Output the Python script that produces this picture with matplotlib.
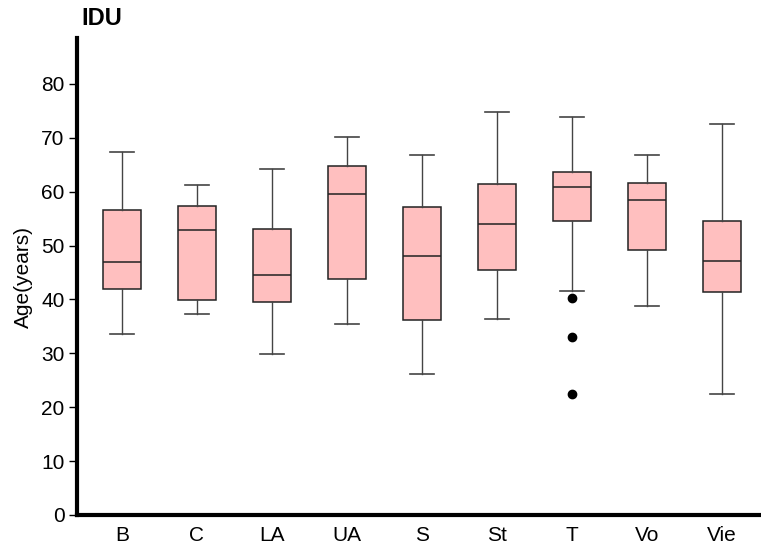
import matplotlib.pyplot as plt

plt.rcParams['font.family'] = ['Liberation Sans', 'DejaVu Sans']

groups = ['B', 'C', 'LA', 'UA', 'S', 'St', 'T', 'Vo', 'Vie']
whisker_low = [33.5, 37.25, 29.9, 35.4, 26.2, 36.4, 41.6, 38.7, 22.4]
q1 = [41.9, 39.9, 39.5, 43.7, 36.1, 45.4, 54.6, 49.1, 41.3]
median = [47.0, 52.8, 44.5, 59.5, 48.1, 53.9, 60.9, 58.4, 47.1]
q3 = [56.5, 57.3, 53.0, 64.8, 57.2, 61.4, 63.6, 61.6, 54.6]
whisker_high = [67.4, 61.25, 64.2, 70.2, 66.8, 74.7, 73.9, 66.7, 72.5]
outliers = {'T': [40.2, 33.1, 22.5]}


def make_stats():
    stats = []
    for i, g in enumerate(groups):
        stats.append({
            'label': g,
            'whislo': whisker_low[i],
            'q1': q1[i],
            'med': median[i],
            'q3': q3[i],
            'whishi': whisker_high[i],
            'fliers': outliers.get(g, []),
        })
    return stats


fig = plt.figure(figsize=(7.61, 5.49), dpi=100)
ax = fig.add_axes([77 / 761, 34 / 549, 1 - 77 / 761, (515 - 38) / 549])

ax.bxp(make_stats(), positions=range(1, len(groups) + 1), widths=0.5,
       capwidths=0.32, patch_artist=True,
       boxprops=dict(facecolor='#ffbfbf', edgecolor='#222222', linewidth=1.1),
       medianprops=dict(color='#222222', linewidth=1.1),
       whiskerprops=dict(color='#444444', linewidth=1),
       capprops=dict(color='#444444', linewidth=1.2),
       flierprops=dict(marker='o', markerfacecolor='black', markeredgecolor='black',
                       markersize=6))

ax.set_xlim(0.4, 9.52)
ax.set_ylim(0, 88.5)
ax.set_yticks(range(0, 81, 10))
ax.spines['top'].set_visible(False)
ax.spines['right'].set_visible(False)
ax.spines['left'].set_linewidth(3)
ax.spines['bottom'].set_linewidth(3)
ax.tick_params(axis='y', labelsize=15, length=6, width=1, pad=3)
ax.tick_params(axis='x', labelsize=15, length=0, pad=8)
ax.set_ylabel('Age(years)', fontsize=15, labelpad=6)

fig.text(81 / 761, 1 - 7 / 549, 'IDU', fontsize=17, fontweight='bold',
         ha='left', va='top')

fig.savefig('out.png', dpi=100)
